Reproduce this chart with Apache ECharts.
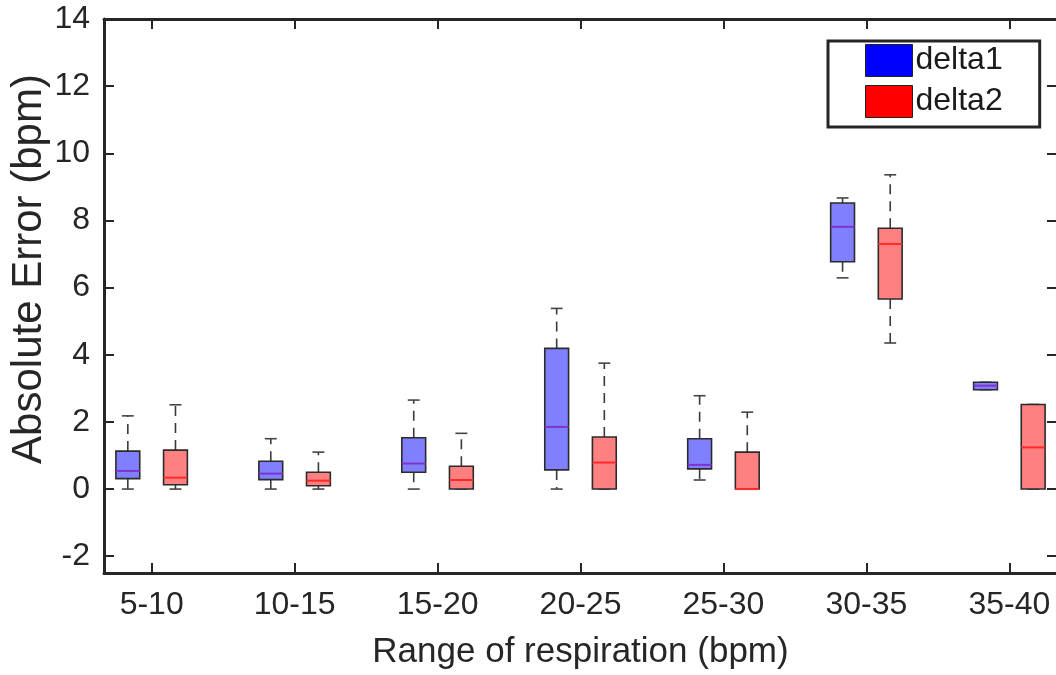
<!DOCTYPE html>
<html>
<head>
<meta charset="utf-8">
<script src="https://cdn.jsdelivr.net/npm/echarts@6/dist/echarts.min.js"></script>
<style>
  html, body { margin: 0; padding: 0; background: #fff; }
  #chart { width: 1056px; height: 675px; }
</style>
</head>
<body>
<div id="chart"></div>
<script>
const categories = ['5-10', '10-15', '15-20', '20-25', '25-30', '30-35', '35-40']
const yTicks = [-2, 0, 2, 4, 6, 8, 10, 12, 14]

// [lower whisker, q1, median, q3, upper whisker]
const delta1 = [
  [0, 0.31, 0.54, 1.13, 2.18],
  [0, 0.28, 0.46, 0.83, 1.50],
  [0, 0.50, 0.76, 1.53, 2.65],
  [0, 0.57, 1.85, 4.19, 5.38],
  [0.27, 0.60, 0.72, 1.50, 2.78],
  [6.29, 6.77, 7.81, 8.52, 8.67],
  [2.96, 2.96, 3.08, 3.18, 3.18]
]
const delta2 = [
  [0, 0.13, 0.34, 1.16, 2.51],
  [0, 0.10, 0.25, 0.50, 1.10],
  [0, 0, 0.27, 0.68, 1.66],
  [0, 0, 0.79, 1.55, 3.75],
  [0, 0, 0, 1.10, 2.29],
  [4.35, 5.66, 7.30, 7.77, 9.36],
  [0, 0, 1.24, 2.52, 2.52]
]

const font = "'Liberation Sans', Arial, Helvetica, sans-serif"
const axisColor = '#262626'
const boxWidth = 1 / 6
const positions = categories.map((c, i) => i + 1)

function boxRenderer(fill, medianColor, offset) {
  return (params, api) => {
    const x = api.value(0) + offset
    const low = api.coord([x, api.value(1)])
    const q1 = api.coord([x, api.value(2)])
    const med = api.coord([x, api.value(3)])
    const q3 = api.coord([x, api.value(4)])
    const high = api.coord([x, api.value(5)])
    const bw = api.size([boxWidth, 0])[0]
    const cx = low[0]
    const whisker = { stroke: '#3a3a3a', lineWidth: 1.6, lineDash: [10, 7] }
    const cap = { stroke: '#444', lineWidth: 1.6 }
    return {
      type: 'group',
      children: [
        { type: 'line', shape: { x1: cx, y1: q3[1], x2: cx, y2: high[1] }, style: whisker },
        { type: 'line', shape: { x1: cx, y1: q1[1], x2: cx, y2: low[1] }, style: whisker },
        { type: 'line', shape: { x1: cx - bw / 4, y1: high[1], x2: cx + bw / 4, y2: high[1] }, style: cap },
        { type: 'line', shape: { x1: cx - bw / 4, y1: low[1], x2: cx + bw / 4, y2: low[1] }, style: cap },
        {
          type: 'rect',
          shape: { x: cx - bw / 2, y: q3[1], width: bw, height: q1[1] - q3[1] },
          style: { fill: fill, stroke: '#2b2b2b', lineWidth: 1.6 }
        },
        { type: 'line', shape: { x1: cx - bw / 2, y1: med[1], x2: cx + bw / 2, y2: med[1] }, style: { stroke: medianColor, lineWidth: 2 } }
      ]
    }
  }
}

const xAxisBase = {
  type: 'value',
  min: 2 / 3,
  max: 22 / 3,
  axisLine: { show: true, onZero: false, lineStyle: { color: axisColor, width: 3 } },
  axisTick: { show: true, inside: true, length: 10, customValues: positions, lineStyle: { color: axisColor, width: 2 } },
  splitLine: { show: false }
}
const yAxisBase = {
  type: 'value',
  min: -2.5,
  max: 14,
  axisLine: { show: true, onZero: false, lineStyle: { color: axisColor, width: 3 } },
  axisTick: { show: true, inside: true, length: 10, customValues: yTicks, lineStyle: { color: axisColor, width: 2 } },
  splitLine: { show: false }
}

const option = {
  backgroundColor: '#fff',
  animation: false,
  grid: { left: 104, right: -1, top: 19, bottom: 102, outerBoundsMode: 'none' },
  legend: {
    orient: 'vertical',
    left: 828,
    top: 41,
    padding: [3, 37, 9, 37],
    itemGap: 8,
    itemWidth: 47,
    itemHeight: 32,
    icon: 'rect',
    borderColor: '#262626',
    borderWidth: 3,
    backgroundColor: '#fff',
    textStyle: { fontFamily: font, fontSize: 32, color: '#1a1a1a', padding: [0, 0, 0, -2], lineHeight: 32 },
    data: [
      { name: 'delta1', itemStyle: { color: '#0000ff', borderColor: '#222', borderWidth: 1 } },
      { name: 'delta2', itemStyle: { color: '#ff0000', borderColor: '#222', borderWidth: 1 } }
    ]
  },
  xAxis: [
    Object.assign({}, xAxisBase, {
      position: 'bottom',
      name: 'Range of respiration (bpm)',
      nameLocation: 'middle',
      nameGap: 62,
      nameMoveOverlap: false,
      nameTextStyle: { fontFamily: font, fontSize: 35, color: axisColor },
      axisLabel: {
        customValues: positions,
        formatter: v => categories[Math.round(v) - 1],
        fontFamily: font, fontSize: 32, color: axisColor, margin: 16
      }
    }),
    Object.assign({}, xAxisBase, { position: 'top', axisLabel: { show: false } })
  ],
  yAxis: [
    Object.assign({}, yAxisBase, {
      position: 'left',
      name: 'Absolute Error (bpm)',
      nameLocation: 'middle',
      nameGap: 54,
      nameMoveOverlap: false,
      nameRotate: 90,
      nameTextStyle: { fontFamily: font, fontSize: 42, color: axisColor, padding: [0, 0, 0, 54] },
      axisLabel: { customValues: yTicks, fontFamily: font, fontSize: 32, color: axisColor, margin: 14 }
    }),
    Object.assign({}, yAxisBase, { position: 'right', axisLabel: { show: false } })
  ],
  series: [
    {
      name: 'delta1',
      type: 'custom',
      itemStyle: { color: '#0000ff' },
      renderItem: boxRenderer('#8080ff', '#8033cc', -1 / 6),
      encode: { x: 0, y: [1, 2, 3, 4, 5] },
      data: delta1.map((d, i) => [positions[i]].concat(d))
    },
    {
      name: 'delta2',
      type: 'custom',
      itemStyle: { color: '#ff0000' },
      renderItem: boxRenderer('#ff8080', '#ff2a2a', 1 / 6),
      encode: { x: 0, y: [1, 2, 3, 4, 5] },
      data: delta2.map((d, i) => [positions[i]].concat(d))
    }
  ]
}

const chart = echarts.init(document.getElementById('chart'))
chart.setOption(option)
window.onresize = () => chart.resize()
</script>
</body>
</html>
